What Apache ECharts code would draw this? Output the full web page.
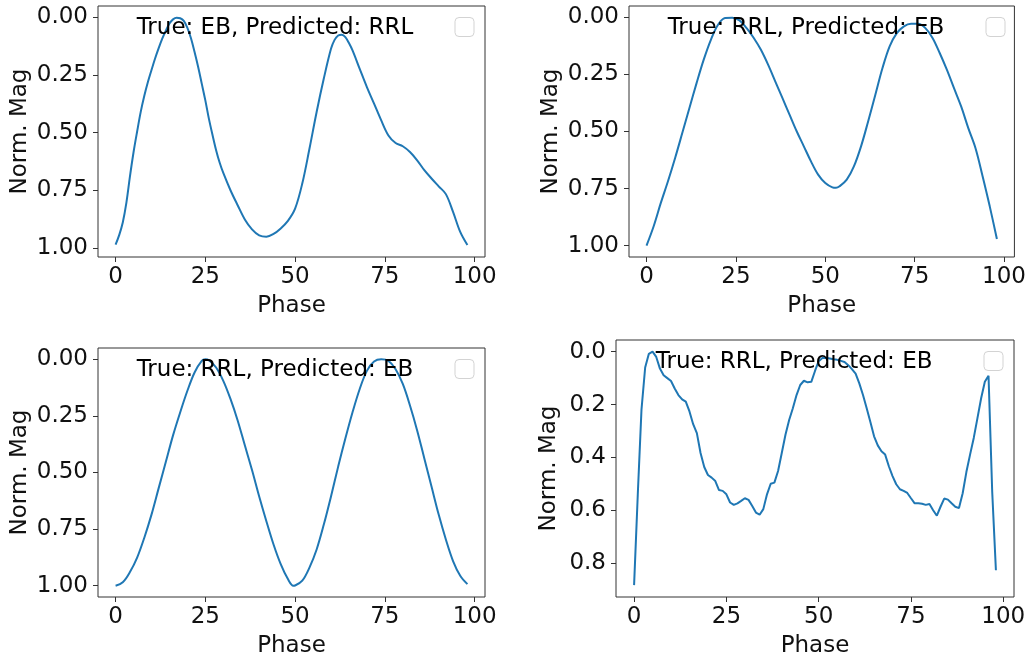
<!DOCTYPE html>
<html><head><meta charset="utf-8">
<script src="https://cdn.jsdelivr.net/npm/echarts@6/dist/echarts.min.js"></script>
<style>html,body{margin:0;padding:0;background:#fff}#c{width:1029px;height:659px}</style>
</head><body><div id="c"></div>
<script>
// ---- data ----
const titles = ['True: EB, Predicted: RRL', 'True: RRL, Predicted: EB', 'True: RRL, Predicted: EB', 'True: RRL, Predicted: EB'];
const xName = 'Phase';
const yName = 'Norm. Mag';
const xTicks = [0, 25, 50, 75, 100];
const yTicksA = [0, 0.25, 0.5, 0.75, 1];
const yTickLabelsA = ['0.00', '0.25', '0.50', '0.75', '1.00'];
const yTicksB = [0, 0.2, 0.4, 0.6, 0.8];
const yTickLabelsB = ['0.0', '0.2', '0.4', '0.6', '0.8'];

const phase1 = [0,1,2,3,4,5,6,7,8,9,10,11,12,13,14,15,16,17,18,19,20,21,22,23,24,25,26,27,28,29,30,32,34,36,38,40,42,44,46,48,50,52,54,56,58,60,61,62,63,64,65,66,68,70,72,74,76,78,80,82,84,86,88,90,92,94,96,98];
const mag1 = [0.986,0.945,0.89,0.805,0.69,0.585,0.495,0.41,0.34,0.28,0.228,0.178,0.133,0.092,0.057,0.026,0.008,0.001,0.003,0.015,0.045,0.09,0.15,0.215,0.287,0.36,0.44,0.51,0.576,0.631,0.675,0.75,0.815,0.877,0.92,0.946,0.952,0.94,0.916,0.883,0.83,0.721,0.57,0.41,0.265,0.136,0.097,0.078,0.075,0.085,0.111,0.143,0.223,0.302,0.374,0.447,0.512,0.545,0.559,0.584,0.62,0.663,0.699,0.733,0.767,0.844,0.931,0.988];

const phase2 = [0,2,4,6,8,10,12,14,16,18,20,22,24,26,28,30,32,34,36,38,40,42,44,46,48,50,52,53,54,56,58,60,62,64,66,68,70,72,74,76,78,80,82,84,86,88,90,92,94,96,98];
const mag2 = [1.0,0.915,0.813,0.718,0.616,0.507,0.397,0.288,0.185,0.098,0.032,0.003,0.001,0.013,0.047,0.09,0.142,0.207,0.28,0.353,0.426,0.499,0.565,0.631,0.689,0.726,0.745,0.747,0.74,0.711,0.653,0.565,0.455,0.339,0.222,0.127,0.069,0.039,0.028,0.028,0.047,0.09,0.156,0.229,0.31,0.39,0.485,0.572,0.696,0.828,0.971];

const phase3 = [0,2,4,6,8,10,12,14,16,18,20,22,24,25,26,28,30,32,34,36,38,40,42,44,46,48,49.5,50,52,54,56,58,60,62,64,66,68,70,72,74,76,78,80,82,84,86,88,90,92,94,96,98];
const mag3 = [1.0,0.985,0.94,0.876,0.788,0.686,0.569,0.453,0.336,0.234,0.139,0.058,0.007,0.0,0.004,0.036,0.095,0.175,0.27,0.38,0.489,0.606,0.715,0.818,0.905,0.971,1.0,0.999,0.978,0.92,0.84,0.73,0.606,0.474,0.35,0.234,0.131,0.051,0.01,0.0,0.007,0.044,0.109,0.204,0.314,0.438,0.562,0.686,0.796,0.891,0.956,0.993];

const phase4 = [0,1,2,3,4,5,6,7,8,9,10,11,12,13,14,15,16,17,18,19,20,21,22,23,24,25,26,27,28,29,30,31,32,33,34,35,36,37,38,39,40,41,42,43,44,45,46,47,48,49,50,51,52,53,54,55,56,57,58,59,60,61,62,63,64,65,66,67,68,69,70,71,72,73,74,75,76,77,78,79,80,81,82,83,84,85,86,87,88,89,90,91,92,93,94,95,96,97,98];
const mag4 = [0.882,0.54,0.22,0.06,0.008,0.0,0.02,0.064,0.089,0.1,0.111,0.139,0.164,0.18,0.189,0.226,0.274,0.308,0.383,0.436,0.466,0.476,0.489,0.523,0.526,0.539,0.57,0.579,0.573,0.564,0.554,0.56,0.583,0.608,0.616,0.595,0.539,0.499,0.495,0.451,0.383,0.314,0.258,0.214,0.164,0.126,0.11,0.116,0.114,0.073,0.036,0.024,0.023,0.026,0.029,0.031,0.035,0.039,0.051,0.066,0.083,0.12,0.164,0.214,0.266,0.32,0.354,0.376,0.389,0.433,0.47,0.501,0.52,0.526,0.534,0.554,0.573,0.573,0.575,0.579,0.576,0.599,0.62,0.586,0.555,0.559,0.573,0.586,0.591,0.535,0.455,0.389,0.326,0.251,0.176,0.114,0.091,0.53,0.826];

// ---- layout ----
const panels = [
  {phase: phase1, mag: mag1, smooth: true, grid: {left: 98, top: 6, width: 387, height: 251}, ymin: -0.05, ymax: 1.04, yt: yTicksA, yl: yTickLabelsA, nameGap: 66},
  {phase: phase2, mag: mag2, smooth: true, grid: {left: 629, top: 6, width: 387, height: 251}, ymin: -0.05, ymax: 1.05, yt: yTicksA, yl: yTickLabelsA, nameGap: 66},
  {phase: phase3, mag: mag3, smooth: true, grid: {left: 98, top: 348, width: 387, height: 252}, ymin: -0.05, ymax: 1.05, yt: yTicksA, yl: yTickLabelsA, nameGap: 66},
  {phase: phase4, mag: mag4, smooth: false, grid: {left: 616, top: 340, width: 398, height: 258}, ymin: -0.044, ymax: 0.927, yt: yTicksB, yl: yTickLabelsB, nameGap: 55}
];

const FONT = 'DejaVu Sans';
const FS = 23;
const TXT = '#111';
const chart = echarts.init(document.getElementById('c'), null, {renderer: 'canvas'});

const grid = [], xAxis = [], yAxis = [], series = [], graphic = [];
panels.forEach((p, i) => {
  grid.push(Object.assign({show: true, borderColor: '#333', borderWidth: 1, backgroundColor: '#fff', containLabel: false}, p.grid));
  xAxis.push({
    gridIndex: i, type: 'value', min: -4.9, max: 102.9, position: 'bottom',
    axisLine: {show: false, onZero: false},
    axisTick: {show: true, customValues: xTicks, length: 5, lineStyle: {color: '#333', width: 1}},
    axisLabel: {customValues: xTicks, fontSize: FS, fontFamily: FONT, color: TXT, margin: 9},
    splitLine: {show: false},
    name: xName, nameLocation: 'middle', nameGap: 38,
    nameTextStyle: {fontSize: FS, fontFamily: FONT, color: TXT}
  });
  yAxis.push({
    gridIndex: i, type: 'value', inverse: true, min: p.ymin, max: p.ymax, position: 'left',
    axisLine: {show: false, onZero: false},
    axisTick: {show: true, customValues: p.yt, length: 5, lineStyle: {color: '#333', width: 1}},
    axisLabel: {customValues: p.yt, fontSize: FS, fontFamily: FONT, color: TXT, margin: 10,
      formatter: v => { const k = p.yt.findIndex(t => Math.abs(t - v) < 1e-9); return k >= 0 ? p.yl[k] : ''; }},
    splitLine: {show: false},
    name: yName, nameLocation: 'middle', nameGap: p.nameGap,
    nameTextStyle: {fontSize: FS, fontFamily: FONT, color: TXT}
  });
  series.push({
    type: 'line', xAxisIndex: i, yAxisIndex: i,
    data: p.phase.map((x, j) => [x, p.mag[j]]),
    showSymbol: false, smooth: p.smooth ? 0.35 : false,
    lineStyle: {color: '#1f77b4', width: 2}, itemStyle: {color: '#1f77b4'},
    animation: false, z: 2
  });
  const g = p.grid;
  const baseline = g.top + 0.1 * g.height + 1.5;
  graphic.push({
    type: 'text', z: 100,
    style: {text: titles[i], x: g.left + 0.1 * g.width, y: baseline - 5, font: FS + 'px "' + FONT + '"', fill: '#000', align: 'left', verticalAlign: 'middle'}
  });
  graphic.push({
    type: 'rect', z: 100,
    shape: {x: g.left + g.width - 11 - 19, y: g.top + 11.5, width: 19, height: 19, r: 4},
    style: {fill: 'rgba(255,255,255,0.8)', stroke: '#d3d3d3', lineWidth: 1}
  });
});

chart.setOption({animation: false, backgroundColor: '#fff', grid, xAxis, yAxis, series, graphic});
</script></body></html>
